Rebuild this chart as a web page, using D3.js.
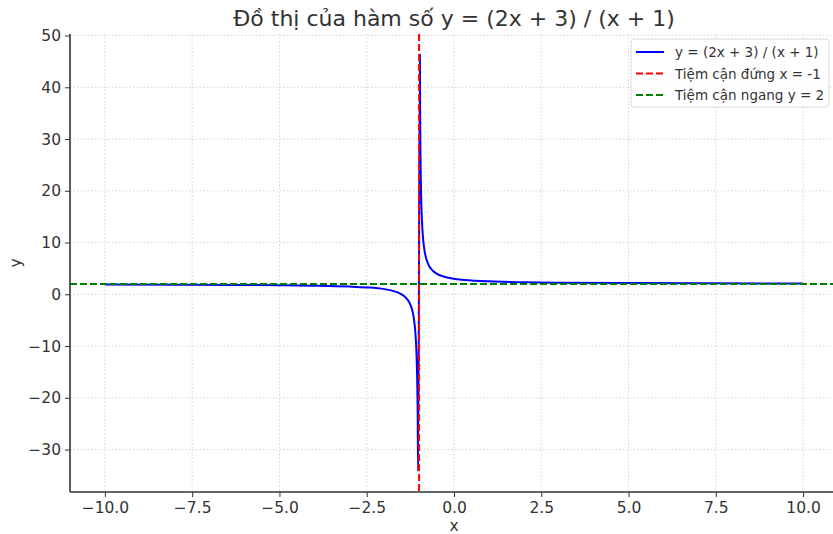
<!DOCTYPE html>
<html>
<head>
<meta charset="utf-8">
<script src="https://cdn.jsdelivr.net/npm/d3@7"></script>
<style>
  body { margin: 0; background: #fff; }
  svg text { font-family: "DejaVu Sans", sans-serif; }
</style>
</head>
<body>
<div id="chart"></div>
<script>
// values
var leftX = [-10, -8, -6, -5, -4, -3, -2.5, -2, -1.75, -1.5, -1.4, -1.3, -1.25, -1.2, -1.15, -1.1, -1.08, -1.06, -1.05, -1.04, -1.028];
var leftY = [1.89, 1.86, 1.8, 1.75, 1.67, 1.5, 1.33, 1.0, 0.67, 0.0, -0.5, -1.33, -2.0, -3.0, -4.67, -8.0, -10.5, -14.7, -18.0, -23.0, -34.2];
var rightX = [-0.977, -0.97, -0.96, -0.95, -0.93, -0.9, -0.85, -0.8, -0.7, -0.6, -0.5, -0.3, 0, 0.5, 1, 2, 3, 5, 7.5, 10];
var rightY = [46.3, 35.3, 27.0, 22.0, 16.3, 12.0, 8.67, 7.0, 5.33, 4.5, 4.0, 3.43, 3.0, 2.67, 2.5, 2.33, 2.25, 2.17, 2.12, 2.09];
var xTicks = [-10, -7.5, -5, -2.5, 0, 2.5, 5, 7.5, 10];
var yTicks = [-30, -20, -10, 0, 10, 20, 30, 40, 50];
var vAsym = -1;
var hAsym = 2;
var legendLabels = ["y = (2x + 3) / (x + 1)", "Tiệm cận đứng x = -1", "Tiệm cận ngang y = 2"];
var legendColors = ["#0000ff", "#ff0000", "#008000"];

var W = 833, H = 534;
var pl = 70, pr = 838, pt = 34, pb = 492;

var svg = d3.select("#chart").append("svg")
  .attr("width", W)
  .attr("height", H);

var x = d3.scaleLinear().domain([-11, 11]).range([pl, pr]);
var y = d3.scaleLinear().domain([-38.2, 50.3]).range([pb, pt]);

var fmtMinus = function(s) { return s.replace("-", "\u2212"); };

svg.append("defs").append("clipPath").attr("id", "clip")
  .append("rect").attr("x", pl).attr("y", pt).attr("width", pr - pl).attr("height", pb - pt);

//GRID
svg.append("g").selectAll("line").data(xTicks).enter().append("line")
  .attr("x1", function(d) { return x(d); }).attr("x2", function(d) { return x(d); })
  .attr("y1", pt).attr("y2", pb)
  .attr("stroke", "#d4d4d4").attr("stroke-width", 1).attr("stroke-dasharray", "1.5,2");
svg.append("g").selectAll("line").data(yTicks).enter().append("line")
  .attr("y1", function(d) { return y(d); }).attr("y2", function(d) { return y(d); })
  .attr("x1", pl).attr("x2", pr)
  .attr("stroke", "#d4d4d4").attr("stroke-width", 1).attr("stroke-dasharray", "1.5,2");

var plot = svg.append("g").attr("clip-path", "url(#clip)");

var line = d3.line()
  .x(function(d) { return x(d[0]); })
  .y(function(d) { return y(d[1]); })
  .curve(d3.curveMonotoneX);

var leftPts = leftX.map(function(v, i) { return [v, leftY[i]]; });
var rightPts = rightX.map(function(v, i) { return [v, rightY[i]]; });

// matplotlib joins both branches in one line
plot.append("path")
  .datum(leftPts.concat(rightPts))
  .attr("d", line)
  .attr("fill", "none")
  .attr("stroke", "#0000ff")
  .attr("stroke-width", 2);

plot.append("line")
  .attr("x1", x(vAsym)).attr("x2", x(vAsym))
  .attr("y1", pt).attr("y2", pb)
  .attr("stroke", "#ff0000").attr("stroke-width", 2).attr("stroke-dasharray", "7,3");

plot.append("line")
  .attr("x1", pl).attr("x2", pr)
  .attr("y1", y(hAsym)).attr("y2", y(hAsym))
  .attr("stroke", "#008000").attr("stroke-width", 2).attr("stroke-dasharray", "7,3");

//AXES
var xAxis = d3.axisBottom(x).tickValues(xTicks).tickSize(5).tickPadding(5)
  .tickFormat(function(d) { return fmtMinus(d3.format(".1f")(d)); });
var yAxis = d3.axisLeft(y).tickValues(yTicks).tickSize(5).tickPadding(4)
  .tickFormat(function(d) { return fmtMinus(String(d)); });

var gx = svg.append("g").attr("transform", "translate(0," + pb + ")").call(xAxis);
var gy = svg.append("g").attr("transform", "translate(" + pl + ",0)").call(yAxis);

[gx, gy].forEach(function(g) {
  g.select(".domain").remove();
  g.selectAll("line").attr("stroke", "#333").attr("stroke-width", 1);
  g.selectAll("text").attr("fill", "#333").style("font-size", "15.5px").style("font-family", "DejaVu Sans, sans-serif");
});

svg.append("line").attr("x1", pl).attr("x2", pr).attr("y1", pb).attr("y2", pb)
  .attr("stroke", "#333").attr("stroke-width", 1.6);
svg.append("line").attr("x1", pl).attr("x2", pl).attr("y1", pt).attr("y2", pb)
  .attr("stroke", "#333").attr("stroke-width", 1.6);

//LABELS
svg.append("text")
  .attr("x", 454).attr("y", 26)
  .attr("text-anchor", "middle")
  .attr("fill", "#333")
  .style("font-size", "22px")
  .text("Đồ thị của hàm số y = (2x + 3) / (x + 1)");

svg.append("text")
  .attr("x", 454).attr("y", 531)
  .attr("text-anchor", "middle")
  .attr("fill", "#333")
  .style("font-size", "15.5px")
  .text("x");

svg.append("text")
  .attr("transform", "translate(21," + 263 + ") rotate(-90)")
  .attr("text-anchor", "middle")
  .attr("fill", "#333")
  .style("font-size", "15.5px")
  .text("y");

//LEGEND
var lg = svg.append("g").attr("transform", "translate(631,39)");
lg.append("rect")
  .attr("width", 198).attr("height", 68)
  .attr("rx", 3)
  .attr("fill", "#fff").attr("fill-opacity", 0.85)
  .attr("stroke", "#d8d8d8");

var rows = lg.selectAll(".row").data(legendLabels).enter().append("g")
  .attr("class", "row")
  .attr("transform", function(d, i) { return "translate(0," + (13 + i * 21.5) + ")"; });

rows.append("line")
  .attr("x1", 5).attr("x2", 33)
  .attr("stroke", function(d, i) { return legendColors[i]; })
  .attr("stroke-width", 2)
  .attr("stroke-dasharray", function(d, i) { return i === 0 ? null : "7,3"; });

rows.append("text")
  .attr("x", 44).attr("y", 5)
  .attr("fill", "#333")
  .style("font-size", "13.5px")
  .text(function(d) { return d; });
</script>
</body>
</html>
